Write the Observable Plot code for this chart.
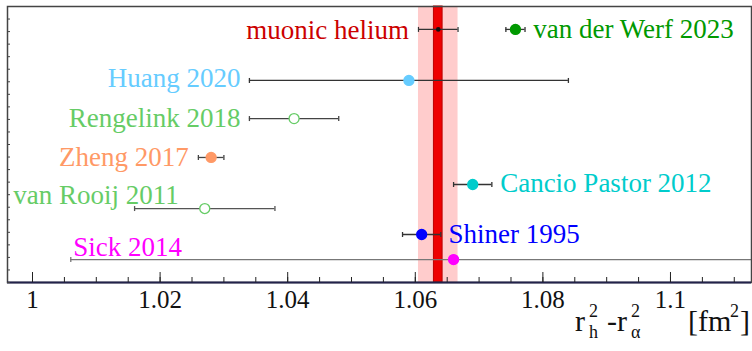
<!DOCTYPE html>
<html>
<head>
<meta charset="utf-8">
<script src="https://cdn.jsdelivr.net/npm/d3@7"></script>
<script src="https://cdn.jsdelivr.net/npm/@observablehq/plot@0.6"></script>
<style>
  html, body { margin: 0; padding: 0; background: white; }
  svg { display: block; }
  svg, svg text { font-family: "Liberation Serif", "Times New Roman", Times, "DejaVu Serif", serif !important; }
</style>
</head>
<body>
<div id="chart"></div>
<script>
// ---- data ----
const names = ["van der Werf 2023", "Huang 2020", "Rengelink 2018", "Zheng 2017", "Cancio Pastor 2012", "van Rooij 2011", "Shiner 1995", "Sick 2014"];
const values = [1.0757, 1.059, 1.041, 1.028, 1.069, 1.027, 1.061, 1.066];
const errors = [0.0015, 0.025, 0.007, 0.002, 0.003, 0.011, 0.003, 0.060];
const rows = [0.917, 0.732, 0.594, 0.453, 0.355, 0.268, 0.174, 0.083];
const colors = ["#009900", "#66ccff", "#66cc66", "#ff9966", "#00cccc", "#66cc66", "#0000ff", "#ff00ff"];
const openMarker = [false, false, true, false, false, true, false, false];
const barColors = ["#333333", "#333333", "#444444", "#444444", "#333333", "#555555", "#333333", "#777777"];
const labelX = [1.0785, 1.0326, 1.0326, 1.0245, 1.0733, 0.9970, 1.0652, 1.0064];
const labelY = [0.918, 0.740, 0.594, 0.455, 0.359, 0.315, 0.173, 0.128];
const labelAnchor = ["start", "end", "end", "end", "start", "start", "start", "start"];

const muLabel = "muonic helium";
const muValue = 1.0636;
const muError = 0.0031;
const muBand = 0.00068;
const muRow = 0.917;
const muLabelX = 1.0590;
const muLabelY = 0.914;

const xDomain = [0.99608, 1.1127];
const xTicks = [1, 1.02, 1.04, 1.06, 1.08, 1.1];
const xTickLabels = ["1", "1.02", "1.04", "1.06", "1.08", "1.1"];
const xMinorTicks = d3.range(200, 223).map(i => +(i * 0.005).toFixed(3));
const yTicks = d3.range(0, 23).map(i => i / 22);

// ---- tables ----
const points = names.map((n, i) => ({
  name: n, v: values[i], e: errors[i], row: rows[i], color: colors[i],
  open: openMarker[i], bar: barColors[i],
  lx: labelX[i], ly: labelY[i], anchor: labelAnchor[i]
}));
const caps = points.flatMap(p => [{x: p.v - p.e, row: p.row, bar: p.bar}, {x: p.v + p.e, row: p.row, bar: p.bar}]);
const mu = [{v: muValue, e: muError, b: muBand, row: muRow}];

const capSymbol = {
  draw(ctx, size) {
    const h = Math.sqrt(size / Math.PI);
    ctx.moveTo(0, -h);
    ctx.lineTo(0, h);
  }
};

const FONT = "'Liberation Serif', 'Times New Roman', Times, serif";
const W = 752, H = 351;

const plot = Plot.plot({
  width: W,
  height: H,
  marginTop: 6,
  marginBottom: 69,
  marginLeft: 7,
  marginRight: 1,
  style: `font-family: ${FONT}; background: white; overflow: visible;`,
  x: {domain: xDomain},
  y: {domain: [0, 1]},
  marks: [
    // muonic helium bands
    Plot.rect(mu, {x1: d => d.v - d.e, x2: d => d.v + d.e, fill: "#ffcccc"}),
    Plot.rect(mu, {x1: d => d.v - d.b, x2: d => d.v + d.b, fill: "#ee0000", stroke: "#bb0000", strokeWidth: 1}),
    // error bars
    Plot.ruleY(mu, {y: "row", x1: d => d.v - d.e, x2: d => d.v + d.e, stroke: "#333", strokeWidth: 1.2}),
    Plot.dot(mu.flatMap(d => [d.v - d.e, d.v + d.e]), {x: d => d, y: muRow, symbol: capSymbol, r: 2.5, stroke: "#333", strokeWidth: 1.2}),
    Plot.dot(mu, {x: "v", y: "row", r: 2.3, fill: "#111", stroke: "none"}),
    Plot.ruleY(points, {y: "row", x1: d => d.v - d.e, x2: d => d.v + d.e, stroke: "bar", strokeWidth: 1.3, clip: true}),
    Plot.dot(caps, {x: "x", y: "row", symbol: capSymbol, r: 2.5, stroke: "bar", strokeWidth: 1.3, clip: true}),
    Plot.dot(points, {x: "v", y: "row", r: 5, fill: d => d.open ? "white" : d.color, stroke: "color", strokeWidth: 1.3}),
    // labels
    Plot.text(points.filter(p => p.anchor === "start"), {x: "lx", y: "ly", text: "name", fill: "color", textAnchor: "start", lineAnchor: "middle", fontSize: 27, fontFamily: FONT}),
    Plot.text(points.filter(p => p.anchor === "end"), {x: "lx", y: "ly", text: "name", fill: "color", textAnchor: "end", lineAnchor: "middle", fontSize: 27, fontFamily: FONT}),
    Plot.text([muLabel], {x: muLabelX, y: muLabelY, text: d => d, fill: "#cc0000", textAnchor: "end", lineAnchor: "middle", fontSize: 27, fontFamily: FONT}),
    // frame and axes
    Plot.frame({stroke: "#444", strokeWidth: 1.5}),
    Plot.ruleY([0], {stroke: "#22224a", strokeWidth: 2}),
    Plot.axisX({ticks: xMinorTicks, tickSize: -5, tickFormat: () => "", stroke: "#222"}),
    Plot.axisX({ticks: xTicks, tickSize: -10, tickFormat: () => "", stroke: "#222"}),
    Plot.axisX({ticks: xTicks, tickSize: 0, tickPadding: 8, fontSize: 25, fill: "#111", fontFamily: FONT, tickFormat: (d, i) => xTickLabels[i]}),
    Plot.axisY({ticks: yTicks, tickSize: -3, tickFormat: () => "", stroke: "#444"})
  ]
});

document.getElementById("chart").appendChild(plot);

// axis title: r_h^2 - r_alpha^2   [fm^2]  (separate text pieces)
const svg = d3.select(plot);
const base = H - 20, sup = base - 14, sub = base + 7;
function piece(str, x, y, size, anchor = "start") {
  svg.append("text")
    .attr("x", x).attr("y", y)
    .attr("font-size", size)
    .attr("text-anchor", anchor)
    .style("font-family", FONT)
    .attr("fill", "#111")
    .text(str);
}
piece("r", W - 177, base, 30);
piece("2", W - 163, sup, 18);
piece("h", W - 163, sub, 18);
piece("-", W - 145, base, 30);
piece("r", W - 135, base, 30);
piece("2", W - 121, sup, 18);
piece("α", W - 121, sub, 18);
piece("[fm", W - 64, base, 30);
piece("2", W - 22, sup, 18);
piece("]", W - 2, base, 30, "end");
</script>
</body>
</html>
